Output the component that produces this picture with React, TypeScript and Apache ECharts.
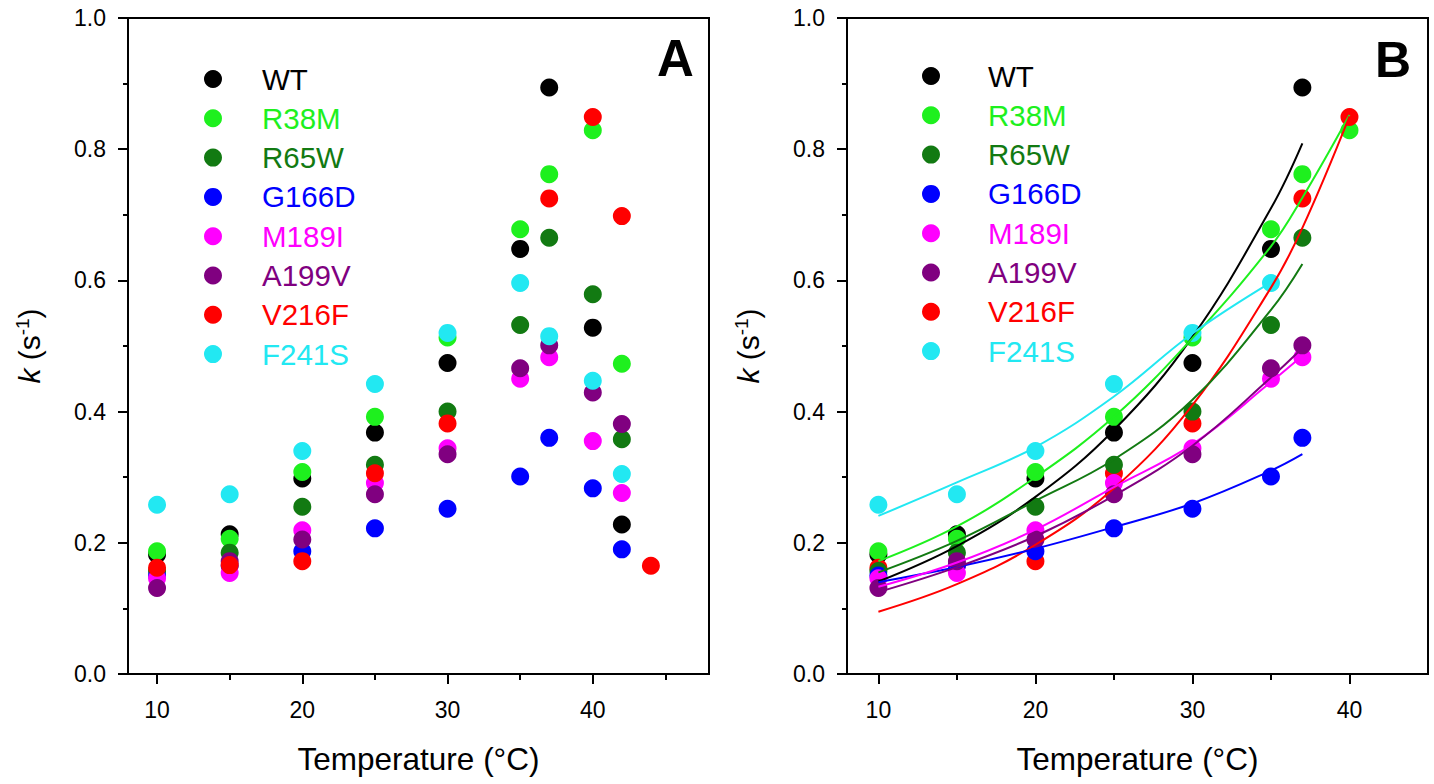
import React, { useEffect, useRef } from "react";
import * as echarts from "echarts";

// ---------- data ----------
const names = ["WT", "R38M", "R65W", "G166D", "M189I", "A199V", "V216F", "F241S"];
const colors = ["#000000", "#1ef01e", "#127a12", "#0000ff", "#ff00ff", "#800080", "#ff0000", "#22e8f2"];

// Panel A (temperatures in °C)
const tempsA = [10, 15, 20, 25, 30, 35, 37, 40, 42, 44];
const wtA = [0.182, 0.213, 0.298, 0.368, 0.474, 0.648, 0.894, 0.528, 0.228, null];
const r38mA = [0.187, 0.206, 0.308, 0.392, 0.513, 0.678, 0.762, 0.829, 0.473, null];
const r65wA = [0.157, 0.185, 0.255, 0.319, 0.4, 0.532, 0.665, 0.579, 0.358, null];
const g166dA = [0.15, 0.165, 0.187, 0.222, 0.252, 0.301, 0.36, 0.283, 0.19, null];
const m189iA = [0.146, 0.154, 0.219, 0.291, 0.344, 0.45, 0.483, 0.355, 0.276, null];
const a199vA = [0.131, 0.172, 0.205, 0.274, 0.335, 0.466, 0.501, 0.429, 0.381, null];
const v216fA = [0.162, 0.166, 0.172, 0.306, 0.382, null, 0.725, 0.849, 0.698, 0.165];
const f241sA = [0.258, 0.274, 0.34, 0.442, 0.52, 0.596, 0.515, 0.447, 0.305, null];

// Panel B (points and fitted curves)
const tempsB = [10, 15, 20, 25, 30, 35, 37, 40];
const wtB = [0.182, 0.213, 0.298, 0.368, 0.474, 0.648, 0.894, null];
const r38mB = [0.187, 0.206, 0.308, 0.392, 0.513, 0.678, 0.762, 0.829];
const r65wB = [0.157, 0.185, 0.255, 0.319, 0.4, 0.532, 0.665, null];
const g166dB = [0.15, 0.165, 0.187, 0.222, 0.252, 0.301, 0.36, null];
const m189iB = [0.146, 0.154, 0.219, 0.291, 0.344, 0.45, 0.483, null];
const a199vB = [0.131, 0.172, 0.205, 0.274, 0.335, 0.466, 0.501, null];
const v216fB = [0.162, 0.166, 0.172, 0.306, 0.382, null, 0.725, 0.849];
const f241sB = [0.258, 0.274, 0.34, 0.442, 0.52, 0.596, null, null];

const wtFit = [0.141, 0.195, 0.27, 0.372, 0.514, 0.71, 0.809, null];
const r38mFit = [0.172, 0.225, 0.3, 0.392, 0.512, 0.652, 0.726, 0.852];
const r65wFit = [0.155, 0.203, 0.264, 0.327, 0.418, 0.555, 0.625, null];
const g166dFit = [0.14, 0.163, 0.191, 0.224, 0.26, 0.31, 0.335, null];
const m189iFit = [0.133, 0.17, 0.22, 0.285, 0.35, 0.445, 0.485, null];
const a199vFit = [0.125, 0.163, 0.21, 0.272, 0.348, 0.452, 0.497, null];
const v216fFit = [0.095, 0.137, 0.197, 0.283, 0.41, 0.589, 0.68, 0.85];
const f241sFit = [0.241, 0.292, 0.346, 0.423, 0.519, 0.597, null, null];

const seriesA = [wtA, r38mA, r65wA, g166dA, m189iA, a199vA, v216fA, f241sA];
const seriesB = [wtB, r38mB, r65wB, g166dB, m189iB, a199vB, v216fB, f241sB];
const fitsB = [wtFit, r38mFit, r65wFit, g166dFit, m189iFit, a199vFit, v216fFit, f241sFit];
const drawOrderB = [0, 1, 6, 2, 3, 4, 5, 7];

const yTickValues = [0, 0.2, 0.4, 0.6, 0.8, 1.0];
const xMajor = [10, 20, 30, 40];
const xMinorA = [15, 25, 35, 45];
const xMinorB = [15, 25, 35];

const FONT = "Liberation Sans, Arial, Helvetica, sans-serif";

function pairs(xs: number[], ys: (number | null)[]) {
  const out: [number, number][] = [];
  xs.forEach((x, i) => {
    const y = ys[i];
    if (y !== null && y !== undefined) out.push([x, y]);
  });
  return out;
}

function makeX(grid: number, min: number, max: number, minor: number[]) {
  return [
    {
      type: "value",
      gridIndex: grid,
      min,
      max,
      position: "bottom",
      axisLine: { onZero: false, lineStyle: { color: "#000", width: 2 } },
      axisTick: { customValues: xMajor, length: 10, lineStyle: { color: "#000", width: 2 } },
      axisLabel: { customValues: xMajor, fontSize: 23, color: "#000", margin: 24, fontFamily: FONT },
      splitLine: { show: false },
      name: "Temperature (°C)",
      nameLocation: "middle",
      nameGap: 69,
      nameTextStyle: { fontSize: 31.5, color: "#000", fontFamily: FONT },
    },
    {
      type: "value",
      gridIndex: grid,
      min,
      max,
      position: "bottom",
      axisLine: { show: false },
      axisTick: { customValues: minor, length: 6, lineStyle: { color: "#000", width: 2 } },
      axisLabel: { show: false },
      splitLine: { show: false },
    },
  ];
}

function makeY(grid: number) {
  return {
    type: "value",
    gridIndex: grid,
    min: 0,
    max: 1,
    interval: 0.2,
    axisLine: { show: true, onZero: false, lineStyle: { color: "#000", width: 2 } },
    axisTick: { show: true, length: 10, lineStyle: { color: "#000", width: 2 } },
    minorTick: { show: true, splitNumber: 2, length: 5, lineStyle: { color: "#000", width: 2 } },
    axisLabel: {
      fontSize: 23,
      color: "#000",
      margin: 22,
      fontFamily: FONT,
      formatter: (v: number) => (yTickValues.includes(Math.round(v * 10) / 10) ? v.toFixed(1) : ""),
    },
    splitLine: { show: false },
    name: "{i|k} (s{sup|-1})",
    nameLocation: "middle",
    nameRotate: 90,
    nameGap: 82,
    nameTextStyle: {
      fontSize: 30,
      color: "#000",
      fontFamily: FONT,
      rich: {
        i: { fontSize: 30, fontStyle: "italic", color: "#000", fontFamily: FONT },
        sup: { fontSize: 19, color: "#000", fontFamily: FONT, verticalAlign: "bottom", padding: [0, 0, 14, 0] },
      },
    },
  };
}

function makeLegend(left: number, top: number, textPad: number) {
  return {
    left,
    top,
    orient: "vertical",
    icon: "circle",
    itemWidth: 18,
    itemHeight: 18,
    itemGap: 9.3,
    selectedMode: false,
    textStyle: { fontSize: 29.5, lineHeight: 30, fontFamily: FONT, padding: [0, 0, 0, textPad] },
    data: names.map((n, i) => ({ name: n, textStyle: { color: colors[i] } })),
  };
}

export default function App() {
  const ref = useRef<HTMLDivElement>(null);
  useEffect(() => {
    if (!ref.current) return;
    const chart = echarts.init(ref.current, undefined, { renderer: "svg" });

    const series: any[] = [];
    seriesA.forEach((ys, i) => {
      series.push({
        name: names[i],
        type: "scatter",
        xAxisIndex: 0,
        yAxisIndex: 0,
        symbol: "circle",
        symbolSize: 18,
        itemStyle: { color: colors[i], opacity: 1 },
        data: pairs(tempsA, ys),
      });
    });
    drawOrderB.forEach((i) => {
      series.push({
        name: names[i] + " fit",
        type: "line",
        xAxisIndex: 2,
        yAxisIndex: 1,
        smooth: 0.4,
        showSymbol: false,
        symbol: "none",
        lineStyle: { color: colors[i], width: 2 },
        data: pairs(tempsB, fitsB[i]),
      });
      series.push({
        name: names[i],
        type: "scatter",
        xAxisIndex: 2,
        yAxisIndex: 1,
        symbol: "circle",
        symbolSize: 18,
        itemStyle: { color: colors[i], opacity: 1 },
        data: pairs(tempsB, seriesB[i]),
      });
    });

    chart.setOption({
      animation: false,
      backgroundColor: "#ffffff",
      textStyle: { fontFamily: FONT },
      grid: [
        { left: 128, top: 18, width: 581, height: 656, show: true, borderColor: "#000", borderWidth: 2, backgroundColor: "transparent" },
        { left: 847, top: 18, width: 581, height: 656, show: true, borderColor: "#000", borderWidth: 2, backgroundColor: "transparent" },
      ],
      xAxis: [...makeX(0, 8, 48, xMinorA), ...makeX(1, 8, 45, xMinorB)],
      yAxis: [makeY(0), makeY(1)],
      legend: [makeLegend(199, 59, 35), makeLegend(917, 56, 43)],
      graphic: [
        { type: "text", left: 657, top: 33, style: { text: "A", font: `bold 51px ${FONT}`, fill: "#000" } },
        { type: "text", left: 1375, top: 35, style: { text: "B", font: `bold 50px ${FONT}`, fill: "#000" } },
      ],
      series,
    });
    return () => chart.dispose();
  }, []);
  return (
    <div
      ref={ref}
      style={{ position: "absolute", left: 0, top: 0, width: 1434, height: 784, background: "#fff" }}
    />
  );
}
